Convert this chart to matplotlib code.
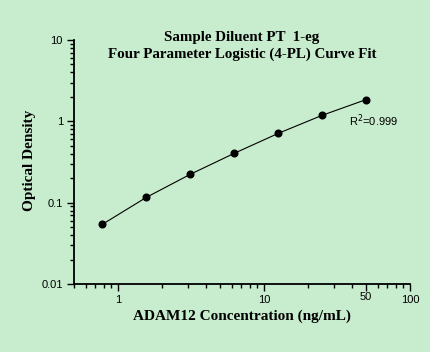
import numpy as np
import matplotlib
matplotlib.use("Agg")
import matplotlib.pyplot as plt
from matplotlib.ticker import FixedLocator, LogLocator, NullFormatter

# standard curve points
conc = [0.78, 1.5625, 3.125, 6.25, 12.5, 25, 50]
od = [0.054, 0.116, 0.223, 0.404, 0.71, 1.185, 1.85]

x_ticks = [1, 10, 50, 100]
x_labels = ["1", "10", "50", "100"]
y_ticks = [0.01, 0.1, 1, 10]
y_labels = ["0.01", "0.1", "1", "10"]

bg = "#c8ecce"
fig = plt.figure(figsize=(4.3, 3.52), dpi=100, facecolor=bg)
ax = fig.add_axes([74/430, 1 - 284/352, (410 - 74)/430, (284 - 40)/352])
ax.set_facecolor(bg)

ax.plot(conc, od, color="black", lw=0.8)
ax.plot(conc, od, "o", color="black", ms=4.8)

ax.set_xscale("log")
ax.set_yscale("log")
ax.set_xlim(0.5, 100)
ax.set_ylim(0.01, 10)

for s in ["top", "right"]:
    ax.spines[s].set_visible(False)
for s in ["left", "bottom"]:
    ax.spines[s].set_linewidth(1.3)

ax.xaxis.set_major_locator(FixedLocator(x_ticks))
ax.set_xticklabels(x_labels)
ax.xaxis.set_minor_locator(LogLocator(base=10, subs=np.arange(2, 10)))
ax.xaxis.set_minor_formatter(NullFormatter())
ax.yaxis.set_major_locator(FixedLocator(y_ticks))
ax.set_yticklabels(y_labels)
ax.yaxis.set_minor_locator(LogLocator(base=10, subs=np.arange(2, 10)))
ax.yaxis.set_minor_formatter(NullFormatter())

ax.tick_params(which="major", length=5, width=1, direction="out", labelsize=8,
               pad=3)
ax.tick_params(which="minor", length=3, width=1, direction="out")
for lab in ax.get_xticklabels() + ax.get_yticklabels():
    lab.set_fontfamily("Liberation Sans")
ax.get_xticklabels()[2].set_y(0.012)

serif = "Liberation Serif"
fig.text(242/430, 1 - 37/352, "Sample Diluent PT  1-eg", ha="center", va="center",
         fontsize=10.8, fontweight="bold", family=serif)
fig.text(242/430, 1 - 54/352, "Four Parameter Logistic (4-PL) Curve Fit",
         ha="center", va="center", fontsize=10.8, fontweight="bold", family=serif)
fig.text(242/430, 1 - 316/352, "ADAM12 Concentration (ng/mL)", ha="center",
         va="center", fontsize=11, fontweight="bold", family=serif)
fig.text(30/430, 1 - 160/352, "Optical Density", ha="center", va="center",
         rotation=90, fontsize=11, fontweight="bold", family=serif)
fig.text(349/430, 1 - 121/352, "R$^2$=0.999", ha="left", va="center",
         fontsize=8, family="Liberation Sans")

fig.savefig("out.png", dpi=100, facecolor=bg)
